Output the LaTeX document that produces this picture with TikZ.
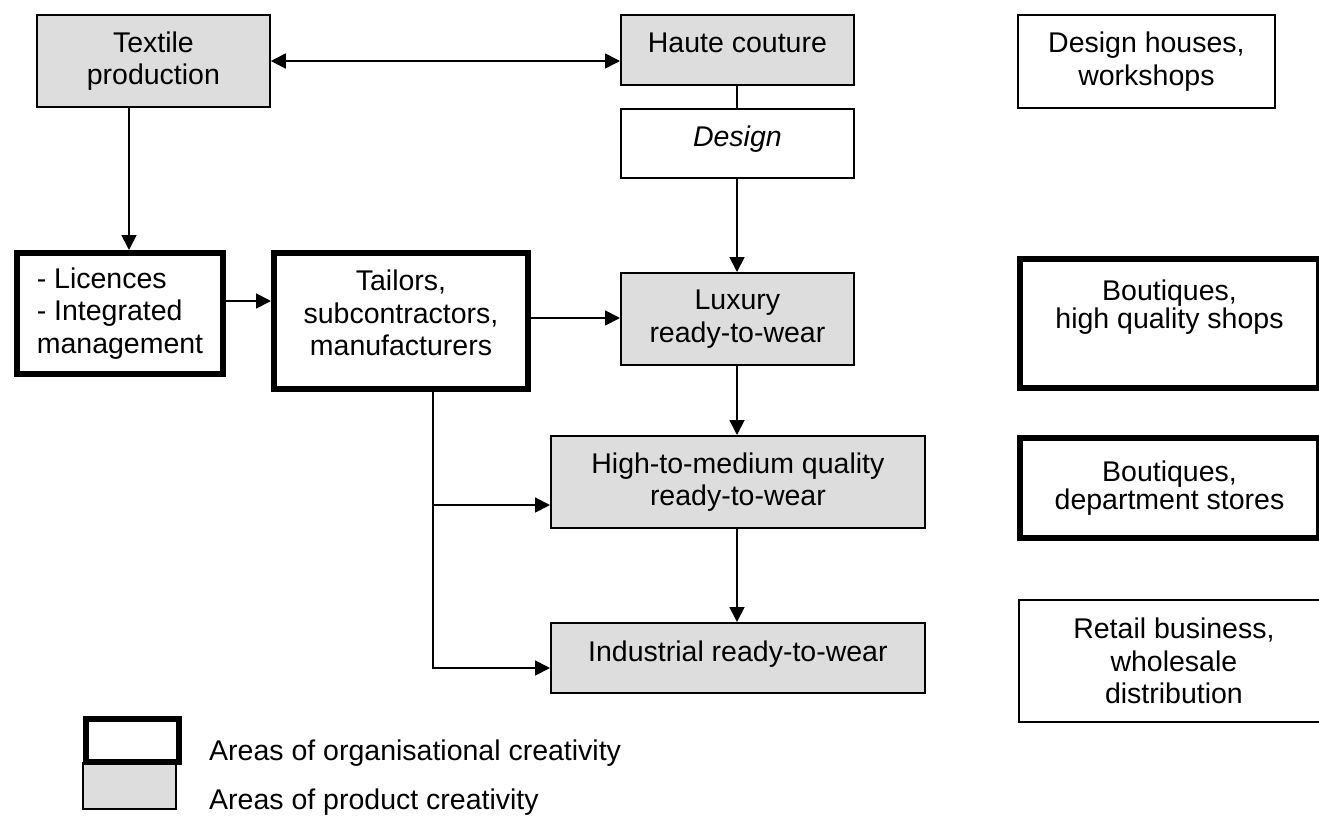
\documentclass[tikz,border=0pt]{standalone}
\usepackage{fontspec}
\setmainfont{Liberation Sans}
\usetikzlibrary{arrows.meta}
\definecolor{boxgray}{RGB}{221,221,221}
\newcommand\dpt[1]{\rule[-#1]{0pt}{#1}}
\begin{document}
\begin{tikzpicture}[x=1pt,y=-1pt,
  base/.style={draw=black, line width=1.8pt, inner sep=0pt, align=center, anchor=north west,
    font=\fontsize{28.5}{32.5}\selectfont},
  tight/.style={font=\fontsize{28.5}{28}\selectfont},
  grayb/.style={base, fill=boxgray},
  whiteb/.style={base, fill=white},
  thickb/.style={base, line width=6pt, fill=white},
  lbl/.style={inner sep=0pt, anchor=west, font=\fontsize{28.5}{32.5}\selectfont},
  arr/.style={line width=1.8pt, -{Triangle[length=15pt,width=15pt]}},
  darr/.style={line width=1.8pt, {Triangle[length=15pt,width=15pt]}-{Triangle[length=15pt,width=15pt]}},
  con/.style={line width=1.8pt}]
\useasboundingbox (0,0) rectangle (1319,816);

% helper coordinates
\coordinate (xa) at (737,0);
\coordinate (xt) at (129,0);
\coordinate (xb) at (433,0);
\coordinate (y61) at (0,61);
\coordinate (y301) at (0,301);
\coordinate (y318) at (0,318);
\coordinate (y505) at (0,505);
\coordinate (y668) at (0,668);

% boxes
\node[grayb, minimum width=233, minimum height=92] (tex) at (36,14) {Textile\\production};
\node[grayb, minimum width=233, minimum height=70] (haute) at (620,14) {Haute couture\dpt{14pt}};
\node[whiteb, minimum width=233, minimum height=69] (design) at (620,108) {\itshape Design\dpt{14pt}};
\node[whiteb, minimum width=257, minimum height=93] (dh) at (1017,14) {Design houses,\\workshops};

\node[thickb, minimum width=206, minimum height=121, align=left] (lic) at (14,250) {- Licences\\- Integrated\\management};
\node[thickb, minimum width=254, minimum height=136] (tai) at (271,250) {Tailors,\\subcontractors,\\manufacturers\dpt{16pt}};
\node[grayb, minimum width=233, minimum height=92] (lux) at (620,272) {Luxury\\ready-to-wear};
\node[thickb, tight, minimum width=299, minimum height=129] (bq1) at (1017,256) {Boutiques,\\high quality shops\dpt{38pt}};

\node[grayb, minimum width=374, minimum height=92] (htm) at (550,435) {High-to-medium quality\\ready-to-wear};
\node[thickb, tight, minimum width=299, minimum height=100] (bq2) at (1017,435) {Boutiques,\\department stores};

\node[grayb, minimum width=374, minimum height=70] (ind) at (550,622) {Industrial ready-to-wear\dpt{14pt}};
\node[whiteb, minimum width=310, minimum height=122] (ret) at (1018,599) {Retail business,\\wholesale\\distribution};

% legend
\node[grayb, minimum width=93, minimum height=46] (leg2) at (82,762) {};
\node[thickb, minimum width=93, minimum height=43] (leg1) at (83,716) {};
\node[lbl] (t1) at (209,753) {Areas of organisational creativity};
\node[lbl] (t2) at (209,802) {Areas of product creativity};

% connectors
\draw[darr] (tex.east |- y61) -- (haute.west |- y61);
\draw[con] (xa |- haute.south) -- (xa |- design.north);
\draw[arr] (xa |- design.south) -- (xa |- lux.north);
\draw[arr] (xa |- lux.south) -- (xa |- htm.north);
\draw[arr] (xa |- htm.south) -- (xa |- ind.north);
\draw[arr] (xt |- tex.south) -- (xt |- lic.north);
\draw[arr] (lic.east |- y301) -- (tai.west |- y301);
\draw[arr] (tai.east |- y318) -- (lux.west |- y318);
\draw[arr] (xb |- tai.south) |- (ind.west |- y668);
\draw[arr] (xb |- y505) -- (htm.west |- y505);
\end{tikzpicture}
\end{document}
